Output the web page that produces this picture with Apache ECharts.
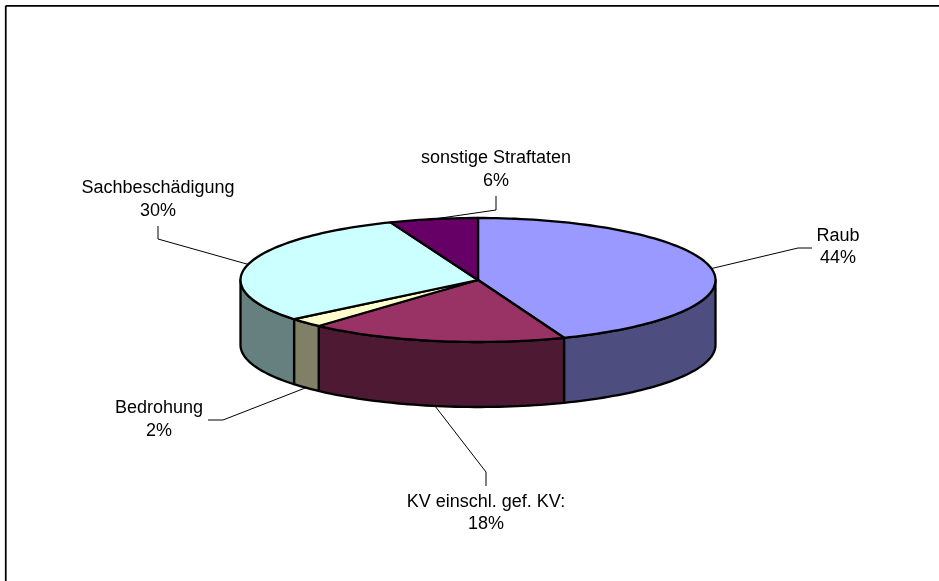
<!DOCTYPE html>
<html>
<head>
<meta charset="utf-8">
<style>html,body{margin:0;padding:0;background:#fff}#c{width:939px;height:581px}</style>
<script src="https://cdn.jsdelivr.net/npm/echarts@6/dist/echarts.min.js"></script>
</head>
<body>
<div id="c"></div>
<script>
// Data
const categories = ['Raub', 'KV einschl. gef. KV:', 'Bedrohung', 'Sachbeschädigung', 'sonstige Straftaten'];
const values = [44.1, 17.6, 2.4, 29.9, 6.0];
// Styles
const topColors = ['#9999FF', '#993366', '#FFFFCC', '#CCFFFF', '#660066'];
const sideColors = ['#4D4D80', '#4D1933', '#808066', '#668080', '#330033'];
// Layout
const pie = { cx: 478, cy: 280, rx: 237.5, ry: 62, depth: 65 };
const labelCenters = [[838, 247], [486, 513], [159, 419.5], [158, 199.5], [496, 169.5]];
const leaderBends = [
  [[798, 248], [812, 248]],
  [[486, 472], [486, 486]],
  [[223, 420], [208, 420]],
  [[158, 239], [158, 226]],
  [[496, 210], [496, 196]]
];
const leaderOnSide = [false, true, true, false, false];
const fontFamily = '"Liberation Sans", Arial, sans-serif';
const fontSize = 18;

const total = values.reduce((a, b) => a + b, 0);
let run = 0;
const slices = values.map(v => {
  const s = { start: run / total * 360, end: (run + v) / total * 360 };
  run += v;
  return s;
});
function pt(deg, dy) {
  const a = deg * Math.PI / 180;
  return [pie.cx + pie.rx * Math.sin(a), pie.cy - pie.ry * Math.cos(a) + (dy || 0)];
}
function arc(a0, a1, dy) {
  const n = Math.max(2, Math.ceil(Math.abs(a1 - a0) / 1.5));
  const out = [];
  for (let i = 0; i <= n; i++) out.push(pt(a0 + (a1 - a0) * i / n, dy));
  return out;
}
const pieStroke = { stroke: '#000', lineWidth: 2.3, lineJoin: 'round' };
const seriesData = values.map((v, i) => ({ name: categories[i], value: [i, v] }));

function renderSide(params, api) {
  const i = api.value(0), s = slices[i];
  const a0 = Math.max(s.start, 90), a1 = Math.min(s.end, 270);
  if (a1 <= a0) return { type: 'group', children: [] };
  return {
    type: 'polygon',
    shape: { points: arc(a0, a1, 0).concat(arc(a1, a0, pie.depth)) },
    style: Object.assign({ fill: sideColors[i] }, pieStroke)
  };
}
function renderTop(params, api) {
  const i = api.value(0), s = slices[i];
  return {
    type: 'polygon',
    shape: { points: [[pie.cx, pie.cy]].concat(arc(s.start, s.end, 0)) },
    style: Object.assign({ fill: topColors[i] }, pieStroke)
  };
}
function renderLabel(params, api) {
  const i = api.value(0), s = slices[i];
  const mid = (s.start + s.end) / 2;
  const anchor = pt(mid, leaderOnSide[i] ? pie.depth : 0);
  const pct = Math.round(api.value(1) / total * 100) + '%';
  return {
    type: 'group',
    children: [
      {
        type: 'polyline',
        shape: { points: [anchor].concat(leaderBends[i]) },
        style: { stroke: '#000', lineWidth: 1, fill: null }
      },
      {
        type: 'text',
        style: {
          x: labelCenters[i][0], y: labelCenters[i][1],
          text: categories[i] + '\n' + pct,
          align: 'center', verticalAlign: 'middle',
          font: fontSize + 'px ' + fontFamily,
          lineHeight: 22.5,
          fill: '#000'
        }
      }
    ]
  };
}
const chart = echarts.init(document.getElementById('c'), null, { renderer: 'canvas' });
const base = { type: 'custom', coordinateSystem: 'none', data: seriesData, animation: false, silent: true, clip: false };
chart.setOption({
  backgroundColor: '#fff',
  animation: false,
  graphic: [
    { type: 'line', z: 0, shape: { x1: 5.75, y1: 5.75, x2: 939, y2: 5.75 }, style: { stroke: '#000', lineWidth: 1.75 } },
    { type: 'line', z: 0, shape: { x1: 5.75, y1: 5.75, x2: 5.75, y2: 581 }, style: { stroke: '#000', lineWidth: 1.75 } }
  ],
  series: [
    Object.assign({}, base, { name: 'labels', z: 1, renderItem: renderLabel }),
    Object.assign({}, base, { name: 'sides', z: 2, renderItem: renderSide }),
    Object.assign({}, base, { name: 'tops', z: 3, renderItem: renderTop })
  ]
});
</script>
</body>
</html>
